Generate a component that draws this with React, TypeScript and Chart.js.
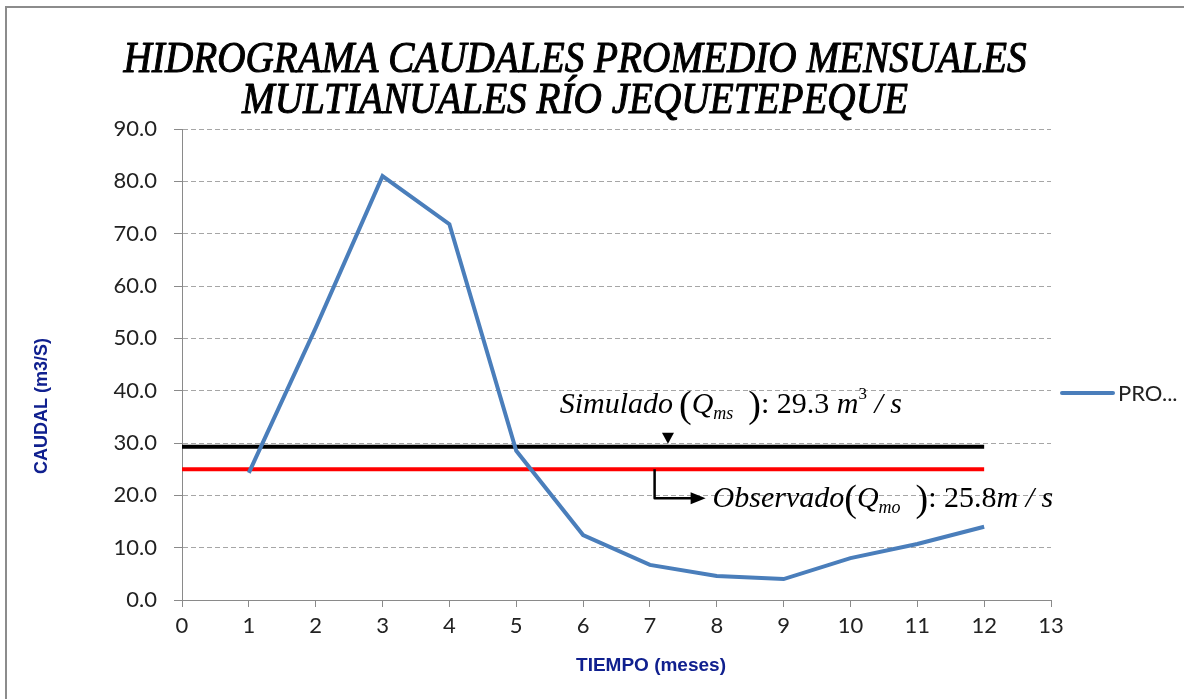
import React, { useEffect, useRef } from "react";
import { Chart, registerables } from "chart.js";

Chart.register(...registerables);

// ---- Data ----
const MONTHS = [1, 2, 3, 4, 5, 6, 7, 8, 9, 10, 11, 12];
const CAUDAL = [24.3, 52.0, 81.0, 71.8, 28.5, 12.4, 6.7, 4.6, 4.0, 8.0, 10.7, 14.0];
const REF_LINE_X = [0, 12];
const SIMULADO_Q = 29.3;
const OBSERVADO_Q = 25.0;
const SERIES_LABEL = "PRO...";
const TITLE_LINES = ["HIDROGRAMA CAUDALES PROMEDIO MENSUALES", "MULTIANUALES RÍO JEQUETEPEQUE"];
const Y_TITLE = "CAUDAL (m3/S)";
const X_TITLE = "TIEMPO (meses)";
const SIM_TEXT = "29.3";
const OBS_TEXT = "25.8";
const X_MIN = 0;
const X_MAX = 13;
const Y_MIN = 0;
const Y_MAX = 90;
const Y_STEP = 10;

const BLUE = "#4a7ebb";
const AXIS_GRAY = "#8a8a8a";
const TITLE_BLUE = "#10208f";

const SERIF = "'Liberation Serif', 'Times New Roman', serif";
const IT = `italic 30px ${SERIF}`;
const RG = `30px ${SERIF}`;
const PAR = `38px ${SERIF}`;
const SUB = `italic 18px ${SERIF}`;
const SUP = `17px ${SERIF}`;

type Seg = { t: string; f: string; dy?: number };

function drawRich(ctx: CanvasRenderingContext2D, segs: Seg[], x: number, y: number) {
  let cx = x;
  for (const s of segs) {
    ctx.font = s.f;
    ctx.fillText(s.t, cx, y + (s.dy || 0));
    cx += ctx.measureText(s.t).width;
  }
  return cx;
}

const overlayPlugin = {
  id: "overlay",
  afterDraw(chart: any) {
    const { ctx, chartArea } = chart;
    const xs = chart.scales.x;
    const ys = chart.scales.y;
    ctx.save();

    // Title (italic, emboldened with a stroke)
    ctx.fillStyle = "#000";
    ctx.strokeStyle = "#000";
    ctx.lineJoin = "round";
    ctx.font = `italic 45px ${SERIF}`;
    ctx.textAlign = "center";
    ctx.textBaseline = "alphabetic";
    const w1 = ctx.measureText(TITLE_LINES[0]).width;
    const sx = 903 / w1;
    const cxTitle = 575;
    [72, 113].forEach((by, i) => {
      ctx.save();
      ctx.translate(cxTitle, by);
      ctx.scale(sx, 1);
      ctx.lineWidth = 1.1;
      ctx.fillText(TITLE_LINES[i], 0, 0);
      ctx.strokeText(TITLE_LINES[i], 0, 0);
      ctx.restore();
    });

    // Axis titles
    ctx.fillStyle = TITLE_BLUE;
    ctx.font = `bold 18px 'Liberation Sans', Arial, sans-serif`;
    ctx.textAlign = "center";
    ctx.textBaseline = "middle";
    ctx.save();
    ctx.translate(42, 406);
    ctx.rotate(-Math.PI / 2);
    ctx.fillText(Y_TITLE, 0, 0);
    ctx.restore();
    ctx.font = `bold 19px 'Liberation Sans', Arial, sans-serif`;
    ctx.fillText(X_TITLE, 651, 666);

    // Legend
    const ly = 393;
    ctx.strokeStyle = BLUE;
    ctx.lineWidth = 4;
    ctx.lineCap = "round";
    ctx.beginPath();
    ctx.moveTo(chartArea.right + 11, ly);
    ctx.lineTo(chartArea.right + 62, ly);
    ctx.stroke();
    ctx.fillStyle = "#222";
    ctx.font = `22px Lato, sans-serif`;
    ctx.textAlign = "left";
    ctx.textBaseline = "middle";
    ctx.fillText(SERIES_LABEL, chartArea.right + 67, ly + 1);

    // Annotations
    const simY = ys.getPixelForValue(SIMULADO_Q);
    const obsY = ys.getPixelForValue(OBSERVADO_Q);
    ctx.fillStyle = "#000";
    ctx.textAlign = "left";
    ctx.textBaseline = "alphabetic";
    const simSegs: Seg[] = [
      { t: "Simulado", f: IT },
      { t: "\u2009", f: IT },
      { t: "(", f: PAR, dy: 4 },
      { t: "Q", f: IT },
      { t: "ms", f: SUB, dy: 6 },
      { t: "  ", f: IT },
      { t: ")", f: PAR, dy: 4 },
      { t: ": " + SIM_TEXT + " ", f: RG },
      { t: "m", f: IT },
      { t: "3", f: SUP, dy: -14 },
      { t: " / s", f: IT },
    ];
    drawRich(ctx, simSegs, xs.getPixelForValue(5.65), simY - 34);

    // triangle marker
    const tx = xs.getPixelForValue(7.27);
    ctx.beginPath();
    ctx.moveTo(tx - 6, simY - 14);
    ctx.lineTo(tx + 6, simY - 14);
    ctx.lineTo(tx, simY - 3);
    ctx.closePath();
    ctx.fill();

    // elbow arrow
    const ax = xs.getPixelForValue(7.07);
    const ay = obsY + 29;
    ctx.strokeStyle = "#000";
    ctx.lineWidth = 2.5;
    ctx.lineCap = "butt";
    ctx.beginPath();
    ctx.moveTo(ax, obsY);
    ctx.lineTo(ax, ay);
    ctx.lineTo(ax + 38, ay);
    ctx.stroke();
    ctx.beginPath();
    ctx.moveTo(ax + 36, ay - 6);
    ctx.lineTo(ax + 51, ay);
    ctx.lineTo(ax + 36, ay + 6);
    ctx.closePath();
    ctx.fill();

    const obsSegs: Seg[] = [
      { t: "Observado", f: IT },
      { t: "(", f: PAR, dy: 4 },
      { t: "Q", f: IT },
      { t: "mo", f: SUB, dy: 6 },
      { t: "  ", f: IT },
      { t: ")", f: PAR, dy: 4 },
      { t: ": " + OBS_TEXT, f: RG },
      { t: "m", f: IT },
      { t: " / s", f: IT },
    ];
    drawRich(ctx, obsSegs, ax + 58, ay + 9);

    ctx.restore();
  },
};

export default function App() {
  const ref = useRef<HTMLCanvasElement | null>(null);

  useEffect(() => {
    if (!ref.current) return;
    const chart = new Chart(ref.current, {
      type: "line",
      data: {
        datasets: [
          {
            label: SERIES_LABEL,
            data: MONTHS.map((m, i) => ({ x: m, y: CAUDAL[i] })),
            borderColor: BLUE,
            backgroundColor: BLUE,
            borderWidth: 4,
            pointRadius: 0,
            tension: 0,
          },
          {
            label: "Simulado",
            data: REF_LINE_X.map((x) => ({ x, y: SIMULADO_Q })),
            borderColor: "#000000",
            borderWidth: 4,
            pointRadius: 0,
          },
          {
            label: "Observado",
            data: REF_LINE_X.map((x) => ({ x, y: OBSERVADO_Q })),
            borderColor: "#ff0000",
            borderWidth: 4,
            pointRadius: 0,
          },
        ],
      },
      options: {
        responsive: false,
        animation: false,
        layout: { padding: { top: 129, right: 133, left: 0, bottom: 0 } },
        plugins: {
          legend: { display: false },
          title: { display: false },
          tooltip: { enabled: false },
        },
        scales: {
          x: {
            type: "linear",
            min: X_MIN,
            max: X_MAX,
            ticks: {
              stepSize: 1,
              color: "#222",
              font: { family: "Lato", size: 22 },
              padding: 6,
            },
            grid: { drawOnChartArea: false, drawTicks: true, tickLength: 7, color: AXIS_GRAY },
            border: { color: AXIS_GRAY, width: 1 },
            afterFit: (s: any) => {
              s.height = 99;
            },
          },
          y: {
            min: Y_MIN,
            max: Y_MAX,
            ticks: {
              stepSize: Y_STEP,
              color: "#222",
              font: { family: "Lato", size: 22 },
              padding: 17,
              callback: (v: any) => Number(v).toFixed(1),
            },
            grid: { color: "#a6a6a6", tickColor: AXIS_GRAY, tickLength: 8, lineWidth: 1 },
            border: { color: AXIS_GRAY, width: 1, dash: [5, 3] },
            afterFit: (s: any) => {
              s.width = 182;
            },
          },
        },
      },
      plugins: [overlayPlugin],
    } as any);
    return () => chart.destroy();
  }, []);

  return (
    <div
      style={{
        position: "fixed",
        left: 0,
        top: 0,
        width: 1184,
        height: 699,
        overflow: "hidden",
        background: "#fff",
      }}
    >
      <div
        style={{
          position: "absolute",
          left: 5,
          top: 6,
          width: 1300,
          height: 800,
          borderLeft: "2px solid #8c8c8c",
          borderTop: "2px solid #8c8c8c",
        }}
      />
      <canvas ref={ref} width={1184} height={699} style={{ position: "absolute", left: 0, top: 0, width: 1184, height: 699 }} />
    </div>
  );
}
